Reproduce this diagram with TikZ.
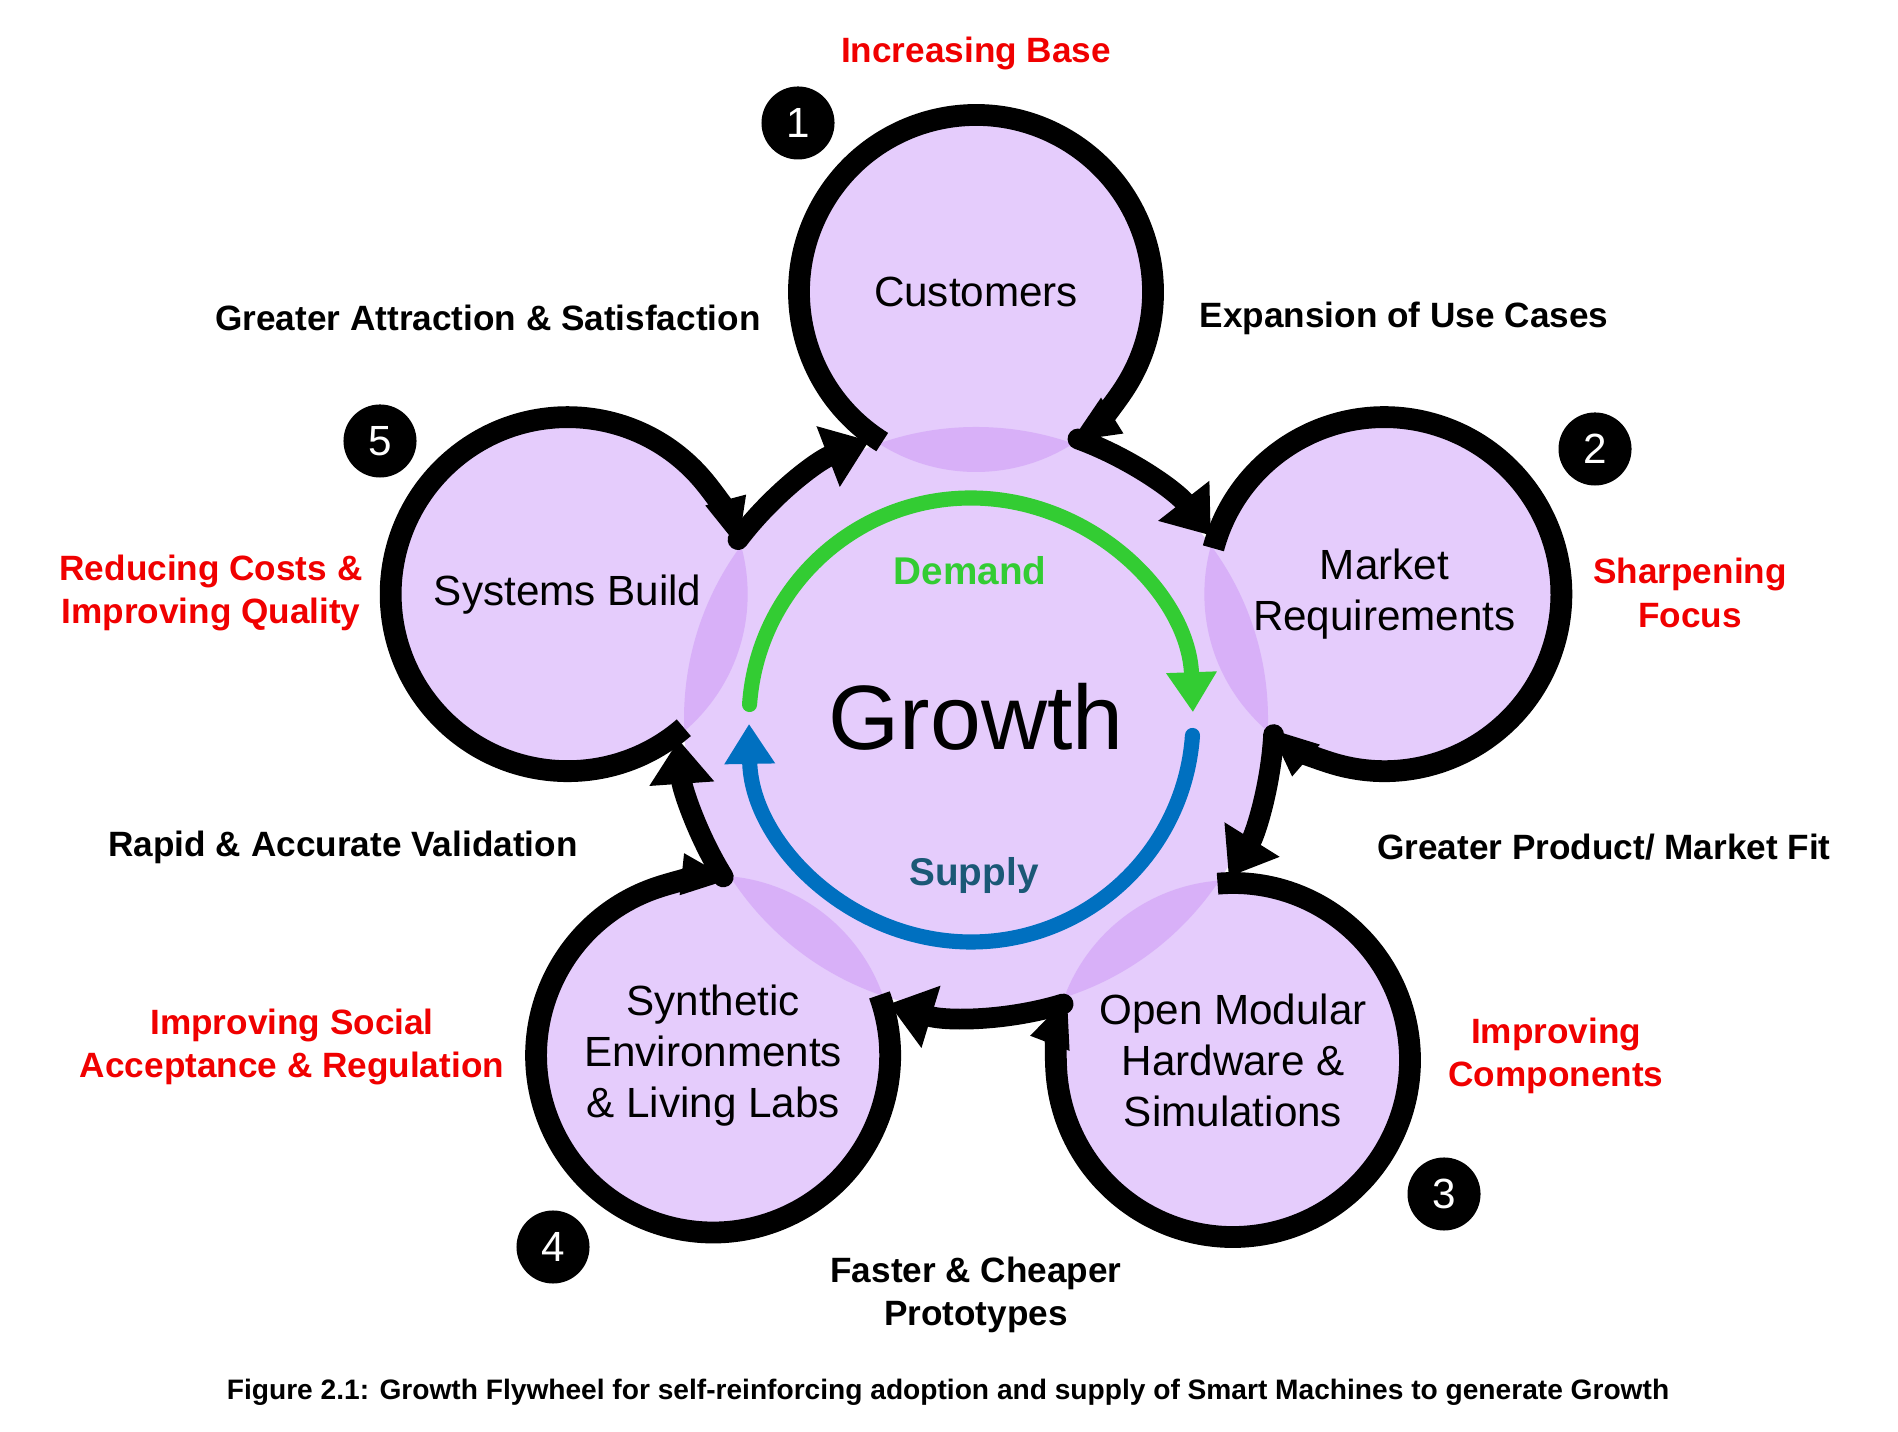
\documentclass[tikz,border=0pt]{standalone}
\usepackage{fontspec}
\setmainfont{Liberation Sans}
\usetikzlibrary{arrows.meta,calc}
\definecolor{lilac}{HTML}{E5CCFC}
\definecolor{lens}{HTML}{D8B0F8}
\definecolor{goalred}{HTML}{F00000}
\definecolor{demandgreen}{HTML}{33CC33}
\definecolor{supplyblue}{HTML}{0070C0}
\definecolor{supplytext}{HTML}{1B5876}
\begin{document}
\begin{tikzpicture}[x=0.01cm,y=0.01cm,
  sat/.style={align=center,font=\fontsize{12}{14.5}\selectfont},
  ring/.style={line width=6.2pt,-{Triangle[width=0.38cm,length=0.5cm]}},
  link/.style={line width=5.9pt,line cap=round,-{Triangle[width=0.62cm,length=0.44cm]}},
  flow/.style={line width=4.3pt,line cap=round,-{Triangle[width=0.48cm,length=0.4cm]}},
  num/.style={circle,fill=black,text=white,minimum size=0.73cm,inner sep=0pt,font=\fontsize{12}{12}\selectfont},
  lbl/.style={align=center,font=\bfseries\fontsize{10}{12.4}\selectfont},
  goal/.style={lbl,text=goalred}]
\useasboundingbox (0,0) rectangle (1898,1431);
% hub and the five stages
\coordinate (hub) at (976,712);
\coordinate (cust) at ($(hub)+(90:427)$);
\coordinate (mkt) at ($(hub)+(17:427)$);
\coordinate (open) at ($(hub)+(-53:427)$);
\coordinate (synth) at ($(hub)+(-128:427)$);
\coordinate (sys) at ($(hub)+(163:427)$);
\fill[lilac] (hub) circle[radius=292];
\foreach \s in {cust,mkt,open,synth,sys}
  \fill[lilac] (\s) circle[radius=180];
\begin{scope}
\clip (hub) circle[radius=292];
\foreach \s in {cust,mkt,open,synth,sys}
  \fill[lens] (\s) circle[radius=180];
\end{scope}
% rings round each stage
\foreach \s/\a in {cust/90,mkt/17,open/-53,synth/-128,sys/163}
  \draw[ring] ($(\s)+(\a+148:177)$) arc[start angle=\a+148, delta angle=-296, radius=177];
% links from stage to stage
\foreach \a/\b in {163/90,90/17,17/-53,-53/-128,-128/-197}
  \draw[link] ($(hub)+(\a-20:298)$) arc[start angle=\a-20, end angle=\b+21, radius=298];
% demand and supply
\coordinate (core) at (971,711);
\draw[flow,demandgreen] ($(core)+(176:222)$) arc[start angle=176, end angle=2, radius=222];
\draw[flow,supplyblue] ($(core)+(-4:222)$) arc[start angle=-4, end angle=-179, radius=222];
\node[font=\fontsize{26}{26}\selectfont] (growth) at (976,714) {Growth};
\node[lbl,text=demandgreen,font=\bfseries\fontsize{11}{11}\selectfont] (demand) at (970,860) {Demand};
\node[lbl,text=supplytext,font=\bfseries\fontsize{11}{11}\selectfont] (supply) at (974,555) {Supply};
% stage texts
\node[sat] (tcust) at (cust) {Customers};
\node[sat] (tmkt) at (mkt) {Market\\Requirements};
\node[sat] (topen) at (open) {Open Modular\\Hardware \&\\Simulations};
\node[sat] (tsynth) at (synth) {Synthetic\\Environments\\\& Living Labs};
\node[sat] (tsys) at (sys) {Systems Build};
% numbers
\node[num] (n1) at (798,1308) {1};
\node[num] (n2) at (1595,982) {2};
\node[num] (n3) at (1444,237) {3};
\node[num] (n4) at (553,184) {4};
\node[num] (n5) at (380,990) {5};
% labels
\node[goal] (base) at (976,1377) {Increasing Base};
\node[lbl] (attract) at (488,1113) {Greater Attraction \& Satisfaction};
\node[lbl] (usecase) at (1404,1113) {Expansion of Use Cases};
\node[goal] (costs) at (211,838) {Reducing Costs \&\\Improving Quality};
\node[goal] (focus) at (1690,838) {Sharpening\\Focus};
\node[lbl] (valid) at (343,584) {Rapid \& Accurate Validation};
\node[lbl] (fit) at (1604,584) {Greater Product/ Market Fit};
\node[goal] (social) at (292,384) {Improving Social\\Acceptance \& Regulation};
\node[goal] (comp) at (1556,375) {Improving\\Components};
\node[lbl] (proto) at (976,136) {Faster \& Cheaper\\Prototypes};
\node[font=\bfseries\fontsize{8}{9}\selectfont] (caption) at (948,39) {Figure 2.1: Growth Flywheel for self-reinforcing adoption and supply of Smart Machines to generate Growth};
\end{tikzpicture}
\end{document}
